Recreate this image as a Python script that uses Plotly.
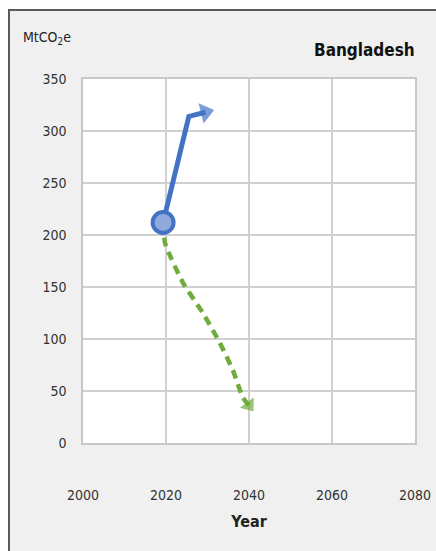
import plotly.graph_objects as go

# Data
blue_years = [2019.3, 2025.5, 2029.5]
blue_values = [212, 314, 318]

green_years = [2019.3, 2019.8, 2024.1, 2028.9, 2033.0, 2036.1, 2038.5, 2040.0]
green_values = [212, 192, 154, 125, 96, 70, 44, 36]

base_year = [2019.3]
base_value = [212]

x_ticks = [2000, 2020, 2040, 2060, 2080]
y_ticks = [0, 50, 100, 150, 200, 250, 300, 350]

BLUE = "#4472C4"
GREEN = "#6FAC3E"
FONT = "DejaVu Sans Condensed, DejaVu Sans, sans-serif"

W, H = 436, 551
L = 83
T = 79
R = W - 415
B = H - 443
pw = W - L - R
ph = H - T - B

def px_x(p):
    return (p - L) / pw

def px_y(p):
    return (H - B - p) / ph

fig = go.Figure()

fig.add_trace(go.Scatter(
    x=green_years, y=green_values, mode="lines+markers",
    line=dict(color=GREEN, width=4.5, dash="9px,6px", shape="spline", smoothing=0.6),
    marker=dict(symbol="triangle-up", angleref="previous",
                size=[0] * (len(green_years) - 1) + [15], color=GREEN, line=dict(width=0)),
    hoverinfo="skip", showlegend=False,
))

fig.add_trace(go.Scatter(
    x=blue_years, y=blue_values, mode="lines+markers",
    line=dict(color=BLUE, width=5),
    marker=dict(symbol="triangle-up", angleref="previous",
                size=[0] * (len(blue_years) - 1) + [18], color=BLUE, line=dict(width=0)),
    hoverinfo="skip", showlegend=False,
))

fig.add_trace(go.Scatter(
    x=base_year, y=base_value, mode="markers",
    marker=dict(symbol="circle", size=21, color="#8EA9DB", line=dict(color=BLUE, width=4)),
    hoverinfo="skip", showlegend=False,
))

fig.add_shape(type="rect", xref="paper", yref="paper",
              x0=px_x(9), x1=px_x(470), y0=px_y(600), y1=px_y(10),
              fillcolor="#F0F0F0", line=dict(color="#5A5A5A", width=2), layer="below")
fig.add_shape(type="rect", xref="paper", yref="paper",
              x0=0, x1=1, y0=0, y1=1,
              fillcolor="white", line=dict(width=0), layer="below")

fig.add_annotation(text="MtCO<sub>2</sub>e", xref="paper", yref="paper",
                   x=px_x(21), y=px_y(38), xanchor="left", yanchor="middle",
                   showarrow=False, font=dict(family=FONT, size=14, color="#222"))
fig.add_annotation(text="<b>Bangladesh</b>", xref="paper", yref="paper",
                   x=px_x(417), y=px_y(50), xanchor="right", yanchor="middle",
                   showarrow=False, font=dict(family=FONT, size=17, color="#111"))

fig.update_layout(
    width=W, height=H,
    margin=dict(l=L, r=R, t=T, b=B, autoexpand=False),
    paper_bgcolor="white", plot_bgcolor="white",
    font=dict(family=FONT, size=14, color="#333"),
    xaxis=dict(range=[2000, 2080], tickvals=x_ticks, showgrid=True,
               gridcolor="#D0D0D0", gridwidth=1.5, zeroline=False,
               showline=True, linecolor="#C8C8C8", linewidth=1.5, mirror=True,
               ticks="outside", ticklen=0, ticklabelstandoff=38,
               title=dict(text="<b>Year</b>", font=dict(family=FONT, size=16, color="#222"),
                          standoff=14),
               tickfont=dict(family=FONT, size=14, color="#333")),
    yaxis=dict(range=[0, 350], tickvals=y_ticks, showgrid=True,
               gridcolor="#D0D0D0", gridwidth=1.5, zeroline=False,
               showline=True, linecolor="#C8C8C8", linewidth=1.5, mirror=True,
               ticks="outside", ticklen=0, ticklabelstandoff=12,
               tickfont=dict(family=FONT, size=14, color="#333")),
)

fig.write_html(
    "out.html",
    config={"displayModeBar": False},
    post_script="document.body.style.margin='0';document.body.style.overflow='hidden';",
)
